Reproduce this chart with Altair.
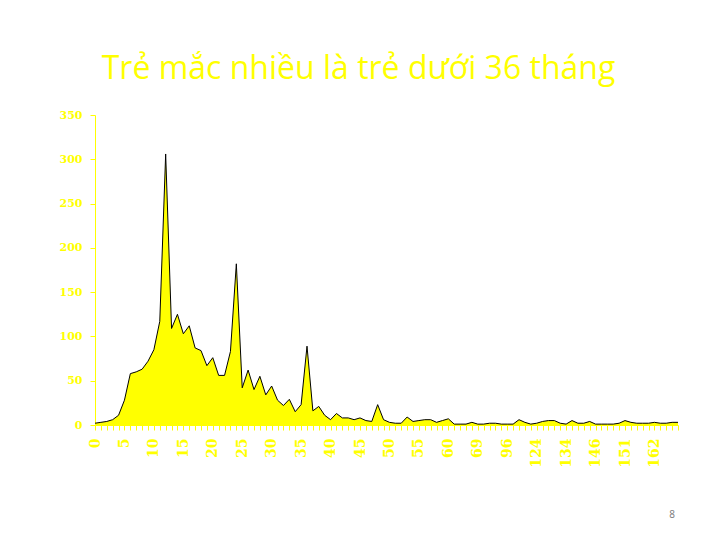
import json
import altair as alt
import pandas as pd

# Month categories (every 5th one is labelled on the axis)
months = [str(m) for m in range(0, 61)] + [
    "61", "62", "64", "66", "69",
    "72", "78", "84", "90", "96",
    "100", "108", "114", "120", "124",
    "126", "128", "130", "132", "134",
    "136", "138", "140", "144", "146",
    "147", "148", "149", "150", "151",
    "152", "154", "156", "160", "162",
    "164", "168", "170", "180",
]

cases = [
    2, 3, 4, 6, 11, 28, 58, 60, 63, 72,
    85, 117, 306, 109, 125, 103, 112, 87, 84, 67,
    76, 56, 56, 83, 182, 42, 62, 40, 55, 34,
    44, 28, 22, 29, 15, 23, 89, 16, 21, 11,
    6, 13, 8, 8, 6, 8, 5, 4, 23, 6,
    3, 2, 2, 9, 4, 5, 6, 6, 3, 5,
    7, 1, 1, 1, 3, 1, 1, 2, 2, 1,
    1, 1, 6, 3, 1, 2, 4, 5, 5, 2,
    1, 5, 2, 2, 4, 1, 1, 1, 1, 2,
    5, 3, 2, 2, 2, 3, 2, 2, 3, 3,
]

shown_labels = ["0", "5", "10", "15", "20", "25", "30", "35", "40", "45",
                "50", "55", "60", "69", "96", "124", "134", "146", "151", "162"]
y_ticks = [0, 50, 100, 150, 200, 250, 300, 350]

title_text = "Trẻ mắc nhiều là trẻ dưới 36 tháng"
page_number = ["8"]

YELLOW = "#FFFF00"

df = pd.DataFrame({"month": months, "cases": cases})
label_expr = ("indexof(" + json.dumps(shown_labels) +
              ", datum.value) >= 0 ? datum.label : ''")

area = alt.Chart(df).mark_area(
    color=YELLOW,
    opacity=1,
    interpolate="linear",
    line=alt.OverlayMarkDef(color="black", strokeWidth=1),
).encode(
    x=alt.X("month:O", sort=months,
            scale=alt.Scale(type="point", padding=0),
            axis=alt.Axis(title=None, labelExpr=label_expr, labelAngle=270,
                          labelColor=YELLOW, labelFont="DejaVu Serif",
                          labelFontWeight="bold", labelFontSize=14,
                          labelPadding=8, tickColor=YELLOW, tickSize=5,
                          domainColor=YELLOW, grid=False)),
    y=alt.Y("cases:Q", scale=alt.Scale(domain=[0, 350], nice=False),
            axis=alt.Axis(title=None, values=y_ticks, labelColor=YELLOW,
                          labelFont="DejaVu Serif", labelFontWeight="bold",
                          labelFontSize=11, labelPadding=8,
                          tickColor=YELLOW, tickSize=5, domainColor=YELLOW,
                          grid=False)),
)

pnum = alt.Chart(pd.DataFrame({"t": page_number})).mark_text(
    color="#7f7f7f", fontSize=10, font="Noto Sans", align="center",
    baseline="middle",
).encode(text="t:N", x=alt.value(577), y=alt.value(400))

chart = alt.layer(area, pnum).properties(
    width=583,
    height=310,
    title=alt.TitleParams(title_text, fontSize=32, font="Open Sans",
                          fontWeight="normal", color=YELLOW, anchor="middle",
                          dx=-28, offset=-2, baseline="alphabetic"),
    autosize=alt.AutoSizeParams(type="none"),
    padding={"left": 87, "top": 107, "right": 34, "bottom": 107},
    background="white",
).configure_view(stroke=None)

chart.save("out.html", embed_options={"renderer": "svg", "actions": False})
